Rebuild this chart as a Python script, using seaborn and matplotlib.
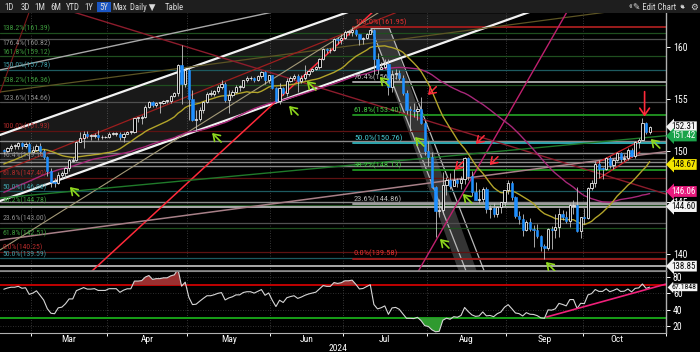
import numpy as np
import pandas as pd
import matplotlib
matplotlib.use("Agg")
import matplotlib.pyplot as plt
import matplotlib.transforms as mtransforms
import seaborn as sns
from matplotlib import font_manager
from matplotlib.patches import Rectangle, Polygon, FancyArrowPatch

# ------------------------------------------------------------------ data
start_date = "2024-02-20"

# closes before the first visible candle (used only for MA / RSI warm-up)
warmup_closes = [144.95, 146.2, 145.4, 142.9, 141.9, 142.2, 142.8, 143.8, 143.6, 142.1, 142.4,
                 142.4, 142.4, 141.9, 141.4, 141.0, 141.0, 142.0, 143.3, 144.6, 144.6, 144.2,
                 144.4, 145.7, 145.3, 144.9, 145.8, 147.2, 148.1, 148.2, 148.1, 148.1, 148.4,
                 147.5, 147.6, 148.1, 147.5, 147.6, 146.9, 146.4, 148.4, 148.7, 147.9, 148.2,
                 149.3, 149.3, 149.3, 150.8, 150.6, 149.9, 150.2, 150.1]

# daily (open, high, low, close)
feb_ohlc = [(150.1, 150.2, 149.7, 150.0), (150.0, 150.4, 149.8, 150.3), (150.3, 150.6, 150.0, 150.5),
            (150.5, 150.6, 150.2, 150.5), (150.5, 150.8, 150.2, 150.7), (150.7, 150.8, 150.2, 150.5),
            (150.5, 150.8, 150.3, 150.6), (150.6, 150.8, 149.2, 149.9)]
mar_ohlc = [(149.9, 150.5, 149.8, 150.1), (150.1, 150.6, 150.0, 150.5), (150.5, 150.7, 149.8, 150.0),
            (150.0, 150.2, 149.2, 149.4), (149.4, 149.5, 147.6, 148.0), (148.0, 148.3, 146.5, 147.0),
            (147.0, 147.4, 146.5, 146.9), (146.9, 147.9, 146.8, 147.7), (147.7, 148.0, 147.3, 147.8),
            (147.8, 148.4, 147.4, 148.3), (148.3, 149.2, 148.0, 149.1), (149.0, 149.4, 148.9, 149.1),
            (149.1, 150.9, 149.0, 150.8), (150.8, 151.8, 150.8, 151.2), (151.2, 151.9, 150.3, 151.6),
            (151.6, 151.9, 151.2, 151.4), (151.4, 151.6, 151.0, 151.4), (151.4, 151.7, 151.2, 151.5),
            (151.5, 151.97, 151.0, 151.3), (151.3, 151.5, 151.1, 151.3), (151.3, 151.4, 151.2, 151.3)]
apr_ohlc = [(151.3, 151.8, 151.2, 151.6), (151.6, 151.8, 151.5, 151.6), (151.6, 151.8, 151.4, 151.6),
            (151.6, 151.8, 151.0, 151.3), (151.3, 151.8, 150.8, 151.6), (151.6, 151.9, 151.6, 151.8),
            (151.8, 151.9, 151.6, 151.8), (151.8, 153.2, 151.7, 153.2), (153.2, 153.3, 152.8, 153.2),
            (153.2, 153.4, 152.6, 153.3), (153.3, 154.4, 153.2, 154.2), (154.2, 154.8, 154.1, 154.7),
            (154.7, 154.8, 154.2, 154.4), (154.4, 154.7, 154.2, 154.6), (154.6, 154.7, 153.6, 154.6),
            (154.6, 154.9, 154.5, 154.8), (154.8, 154.9, 154.6, 154.8), (154.8, 155.4, 154.6, 155.3),
            (155.3, 155.7, 155.2, 155.6), (155.6, 158.4, 155.3, 158.3), (158.3, 160.2, 154.5, 156.4),
            (156.4, 157.9, 156.2, 157.8)]
may_ohlc = [(157.8, 158.0, 153.0, 155.0), (155.0, 155.9, 152.9, 153.0), (153.0, 153.9, 151.86, 153.1),
            (153.1, 154.2, 152.9, 153.9), (153.9, 154.8, 153.6, 154.7), (154.7, 155.7, 154.6, 155.5),
            (155.5, 155.9, 155.3, 155.5), (155.5, 155.9, 155.3, 155.8), (155.8, 156.3, 155.6, 156.2),
            (156.2, 156.8, 156.0, 156.4), (156.4, 156.6, 154.7, 154.9), (154.9, 155.9, 153.6, 155.4),
            (155.4, 155.9, 155.2, 155.7), (155.7, 156.3, 155.6, 156.2), (156.2, 156.3, 155.8, 156.2),
            (156.2, 156.8, 156.1, 156.8), (156.8, 157.2, 156.6, 157.0), (157.0, 157.2, 156.8, 157.0),
            (157.0, 157.1, 156.6, 156.8), (156.8, 157.3, 156.7, 157.2), (157.2, 157.7, 157.0, 157.6),
            (157.6, 157.7, 156.4, 156.8), (156.8, 157.3, 156.5, 157.3)]
jun_ohlc = [(157.3, 157.3, 156.0, 156.1), (156.1, 156.2, 154.6, 154.8), (154.8, 156.5, 154.5, 156.1),
            (156.1, 156.2, 155.4, 155.6), (155.6, 157.0, 155.3, 156.7), (156.7, 157.2, 156.6, 157.0),
            (157.0, 157.4, 156.8, 157.2), (157.2, 157.4, 155.7, 156.7), (156.7, 157.3, 156.5, 157.0),
            (157.0, 158.3, 156.8, 157.4), (157.4, 157.8, 157.2, 157.7), (157.7, 158.0, 157.6, 157.9),
            (157.9, 158.2, 157.8, 158.1), (158.1, 159.0, 157.9, 158.9), (158.9, 159.9, 158.8, 159.8),
            (159.8, 159.9, 159.4, 159.7), (159.7, 159.9, 159.4, 159.7), (159.7, 160.9, 159.6, 160.8),
            (160.8, 161.0, 160.3, 160.7), (160.7, 161.3, 160.3, 160.9)]
jul_ohlc = [(160.9, 161.7, 160.8, 161.5), (161.5, 161.7, 161.2, 161.5), (161.5, 161.95, 161.1, 161.7),
            (161.7, 161.8, 161.1, 161.3), (161.3, 161.3, 160.2, 160.8), (160.8, 161.0, 160.3, 160.9),
            (160.9, 161.4, 160.8, 161.3), (161.3, 161.8, 161.3, 161.7), (161.7, 161.8, 157.4, 158.9),
            (158.9, 159.4, 157.4, 157.9), (157.9, 158.6, 157.9, 158.1), (158.1, 158.9, 157.9, 158.4),
            (158.4, 158.9, 155.4, 156.2), (156.2, 157.8, 155.7, 157.4), (157.4, 157.9, 156.9, 157.5),
            (157.5, 157.8, 156.8, 157.0), (157.0, 157.3, 155.4, 155.6), (155.6, 155.9, 153.5, 153.9),
            (154.0, 154.3, 151.9, 153.9), (153.9, 154.6, 153.3, 153.8), (153.8, 154.3, 153.0, 154.0),
            (154.0, 155.2, 152.6, 152.7), (152.7, 153.0, 149.6, 150.0)]
aug_ohlc = [(150.0, 150.9, 148.5, 149.4), (149.4, 149.9, 146.4, 146.5), (146.5, 146.6, 141.7, 144.2),
            (144.2, 145.3, 143.6, 144.3), (144.3, 147.9, 143.9, 146.7), (146.7, 147.5, 145.7, 147.2),
            (147.2, 147.8, 146.3, 146.6), (146.6, 148.2, 146.6, 147.2), (147.2, 147.4, 146.5, 146.9),
            (146.9, 147.6, 146.3, 147.3), (147.3, 149.4, 146.8, 149.3), (149.3, 149.4, 147.2, 147.6),
            (147.6, 148.0, 145.6, 146.0), (146.0, 147.0, 145.2, 145.2), (145.2, 146.3, 144.9, 145.3),
            (145.3, 146.5, 145.0, 146.3), (146.3, 146.5, 144.0, 144.4), (144.4, 144.8, 143.5, 144.5),
            (144.5, 144.9, 143.6, 143.9), (143.9, 144.7, 143.6, 144.6), (144.6, 145.0, 144.0, 145.0),
            (145.0, 146.2, 144.7, 146.2)]
sep_ohlc = [(146.2, 147.2, 145.8, 146.9), (146.9, 147.1, 145.2, 145.5), (145.5, 145.6, 143.5, 143.7),
            (143.7, 144.2, 142.9, 143.4), (143.4, 143.9, 141.8, 142.3), (142.3, 143.3, 142.2, 143.1),
            (143.1, 143.5, 142.2, 142.4), (142.4, 142.8, 140.7, 142.3), (142.3, 142.9, 141.6, 141.8),
            (141.8, 141.9, 140.3, 140.8), (140.8, 141.0, 139.58, 140.6), (140.6, 142.5, 140.4, 142.4),
            (142.4, 142.7, 140.5, 142.3), (142.3, 143.9, 141.6, 142.6), (142.6, 144.5, 141.7, 143.9),
            (143.9, 144.3, 143.3, 143.6), (143.6, 144.2, 143.0, 143.2), (143.2, 144.9, 142.6, 144.8),
            (144.7, 145.2, 143.9, 144.8), (144.8, 146.5, 142.1, 142.2), (142.2, 143.6, 141.6, 143.6)]
oct_ohlc = [(143.6, 144.5, 142.9, 143.5), (143.5, 146.5, 143.4, 146.4), (146.4, 147.2, 146.2, 146.9),
            (146.9, 149.0, 146.5, 148.7), (148.7, 149.1, 147.4, 148.2), (148.3, 148.4, 147.3, 148.2),
            (148.2, 149.4, 148.1, 149.3), (149.3, 149.5, 148.3, 148.6), (148.6, 149.3, 148.2, 149.1),
            (149.1, 149.9, 149.0, 149.8), (149.8, 149.9, 148.9, 149.2), (149.2, 149.7, 149.0, 149.3),
            (149.3, 150.3, 149.1, 150.1), (150.1, 150.3, 149.4, 149.5), (149.5, 150.9, 149.3, 150.8),
            (150.8, 151.2, 150.3, 151.0), (151.0, 153.2, 151.0, 152.7), (152.7, 152.8, 151.6, 151.8),
            (151.8, 152.4, 151.6, 152.3)]

# Fibonacci levels (left-anchored set, drawn across the chart)
fib_a_levels = [161.39, 160.82, 159.12, 157.78, 156.36, 154.66, 151.93, 149.16, 147.40, 146.08,
                144.78, 143.00, 142.51, 140.25, 139.59]
fib_a_names = ["138.2%", "176.4%", "161.8%", "150.0%", "138.2%", "123.6%", "100.0%", "76.4%",
               "61.8%", "50.0%", "38.2%", "23.6%", "61.8%", "0.0%", "50.0%"]
fib_a_kind = ["g", "k", "g", "t", "g", "k", "r", "k", "r", "t", "g", "k", "g", "r", "t"]
# label placement relative to its line: "a" above, "b" below
fib_a_side = ["a", "b", "a", "a", "a", "a", "a", "a", "a", "a", "a", "a", "b", "a", "a"]
# Fibonacci retracement of the Jul high -> Sep low
fib_b_levels = [161.95, 156.67, 153.40, 150.76, 148.13, 144.86, 139.58]
fib_b_names = ["100.0%", "76.4%", "61.8%", "50.0%", "38.2%", "23.6%", "0.0%"]
fib_b_kind = ["r", "k", "g", "t", "g", "k", "r"]
fib_b_start = 96.2          # trading-day position where the set starts

# plain horizontal levels
grey_levels = [150.90, 149.75, 148.94, 148.55, 145.07]
white_levels = [144.60, 138.85]

# trend lines: two anchor points (trading-day position, price)
trend_lines = {
    "channel_upper": [(-1.05, 151.52), (92.6, 163.11)],
    "channel_lower": [(-1.05, 145.14), (144.1, 163.30)],
    "grey_upper": [(-1.05, 157.80), (74.2, 163.40)],
    "olive": [(-1.05, 155.67), (164.2, 163.30)],
    "red_falling": [(19.1, 163.40), (181.6, 145.91)],
    "red_rising": [(24.6, 138.47), (101.4, 163.30)],
    "red_thin": [(-1.05, 147.94), (107.8, 163.30)],
    "red_steep": [(-1.05, 155.60), (7.0, 163.40)],
    "magenta_rising": [(114.1, 138.28), (155.2, 163.40)],
    "mauve": [(-1.05, 141.37), (181.6, 149.87)],
    "tan": [(-1.05, 140.41), (103.1, 163.30)],
    "green": [(-1.05, 145.43), (181.6, 151.42)],
}
trend_style = {
    "channel_upper": ("#f2f2f2", 1.6), "channel_lower": ("#f2f2f2", 1.6),
    "grey_upper": ("#a8a8a8", 1.0), "olive": ("#5c5424", 0.9),
    "red_falling": ("#8c1c2c", 1.0), "red_rising": ("#ff2a3a", 1.1),
    "red_thin": ("#9c1e1e", 0.9), "red_steep": ("#7a1a1a", 0.8),
    "magenta_rising": ("#c0206e", 1.0), "mauve": ("#a88088", 1.1),
    "tan": ("#a49a78", 0.8), "green": ("#1f7a2a", 1.0),
}
wedge_segments = [[(163.4, 148.81), (175.3, 150.94)], [(164.2, 147.36), (175.3, 149.87)]]

# falling shaded band (left edge through two points, width in trading days)
band_left = [(101.2, 161.86), (127.3, 138.47)]
band_width = 5.0

# arrows (tip position, tip price)
green_arrow_pos = [18.2, 57.4, 78.6, 83.5, 103.6, 113.3, 120.2, 126.5, 149.4, 178.3]
green_arrow_price = [146.49, 151.71, 154.32, 156.73, 157.12, 151.32, 141.47, 145.82, 139.25, 151.13]
red_arrow_pos = [116.9, 130.1, 124.3, 133.9]
red_arrow_price = [155.38, 150.65, 148.14, 148.62]
big_arrow_pos, big_arrow_tip, big_arrow_tail = 176.6, 153.30, 155.70

# right-hand value tags
tag_values = [152.31, 151.42, 148.67, 146.06, 144.60, 138.85]
tag_face = ["#f4f4f4", "#1aa34a", "#f2e400", "#e8197d", "#f4f4f4", "#f4f4f4"]
tag_text = ["black", "white", "black", "white", "black", "black"]
rsi_tag_value = 67.1848
rsi_trend = [(149.6, 31.0), (181.6, 70.2)]

price_ticks = [140, 145, 150, 155, 160]
rsi_ticks = [20, 40, 60, 80]
month_names = ["Mar", "Apr", "May", "Jun", "Jul", "Aug", "Sep", "Oct"]

# ------------------------------------------------------------------ style
sns.set_style("dark", {"axes.facecolor": "black", "figure.facecolor": "black",
                       "axes.edgecolor": "#9a9a9a", "xtick.color": "white",
                       "ytick.color": "white", "axes.grid": False})
_avail = {f.name for f in font_manager.fontManager.ttflist}
NARROW = "DejaVu Sans"
for cand in ["Liberation Sans Narrow", "DejaVu Sans Condensed", "Roboto Condensed",
             "Open Sans Condensed", "Roboto"]:
    if cand in _avail:
        NARROW = cand
        break
plt.rcParams["font.family"] = ["DejaVu Sans"]
FAM = [NARROW, "DejaVu Sans"]

ohlc = feb_ohlc + mar_ohlc + apr_ohlc + may_ohlc + jun_ohlc + jul_ohlc + aug_ohlc + sep_ohlc + oct_ohlc
o, h, l, c = (np.array(v, dtype=float) for v in zip(*ohlc))
n = len(c)
dates = pd.bdate_range(start_date, periods=n)
pos = np.arange(n, dtype=float)

all_close = pd.Series(list(warmup_closes) + list(c))
ma20 = all_close.rolling(20).mean().to_numpy()[-n:]
ma50 = all_close.rolling(50).mean().to_numpy()[-n:]
delta = all_close.diff()
gain = delta.clip(lower=0).ewm(alpha=1 / 14, adjust=False).mean()
loss = (-delta.clip(upper=0)).ewm(alpha=1 / 14, adjust=False).mean()
rsi = (100 - 100 / (1 + gain / loss)).to_numpy()[-n:]

XMIN, XMAX = -1.047, 182.4
YMIN, YMAX = 138.38, 163.30
RMIN, RMAX = 11.4, 87.3

W, H = 700, 352
fig = plt.figure(figsize=(W / 100, H / 100), dpi=100, facecolor="black")
ax = fig.add_axes([0, 1 - 271 / H, 666 / W, (271 - 13) / H])
axr = fig.add_axes([0, 1 - 333 / H, 666 / W, (333 - 271) / H], sharex=ax)
for a in (ax, axr):
    a.set_facecolor("black")
ax.set_xlim(XMIN, XMAX)
ax.set_ylim(YMIN, YMAX)
axr.set_ylim(RMIN, RMAX)


def line_y(anchors, xs):
    (x0, y0), (x1, y1) = anchors
    return y0 + (y1 - y0) * (np.asarray(xs) - x0) / (x1 - x0)


xs = np.linspace(XMIN, XMAX, 600)

# month boundaries
month_first = [i for i in range(n) if i == 0 or dates[i].month != dates[i - 1].month]
bounds = [i - 0.5 for i in month_first[1:]] + [n - 0.5 + (pd.bdate_range(dates[-1], "2024-11-01").size - 2)]
for b in bounds:
    ax.axvline(b, color="#4a4a4a", lw=0.6, ls=(0, (1, 2)), zorder=0.5)
    axr.axvline(b, color="#4a4a4a", lw=0.6, ls=(0, (1, 2)), zorder=0.5)

# channel shading
up_line = line_y(trend_lines["channel_upper"], xs)
lo_line = line_y(trend_lines["channel_lower"], xs)
ax.fill_between(xs, lo_line, np.minimum(up_line, YMAX), where=lo_line < YMAX,
                color="white", alpha=0.10, lw=0, zorder=0.6)

# falling band
(bx0, by0), (bx1, by1) = band_left
band = Polygon([(bx0, by0), (bx0 + band_width, by0), (bx1 + band_width, by1 - 2),
                (bx1, by1 - 2)], closed=True, fc="#3a3a3a", ec="none", alpha=0.9, zorder=0.7)
ax.add_patch(band)
ax.plot([bx0, bx1], [by0, by1], color="#b8b8b8", lw=0.9, zorder=0.8)
ax.plot([bx0 + band_width, bx1 + band_width], [by0, by1], color="#b8b8b8", lw=0.9, zorder=0.8)
ax.plot([bx0, bx0 + band_width], [by0, by0], color="#b8b8b8", lw=0.9, zorder=0.8)

# colours for fib kinds
line_col_a = {"g": "#1f4f1f", "k": "#505050", "t": "#1d5a60", "r": "#5e1212"}
text_col_a = {"g": "#3d9a3d", "k": "#8c8c8c", "t": "#3f9aa3", "r": "#b02a2a"}
line_col_b = {"g": "#1f8c1f", "k": "#a0a0a0", "t": "#2fa6ae", "r": "#9b1c1c"}
text_col_b = {"g": "#45c845", "k": "#b8b8b8", "t": "#45cad2", "r": "#e43030"}

for lev, nm, k, sd in zip(fib_a_levels, fib_a_names, fib_a_kind, fib_a_side):
    ax.axhline(lev, color=line_col_a[k], lw=0.9, zorder=0.9)
    ax.annotate(f"{nm}({lev:.2f})", xy=(-0.3, lev), xytext=(0, 0.5 if sd == "a" else -0.5),
                textcoords="offset points", color=text_col_a[k], fontsize=5.6,
                family=FAM, va="bottom" if sd == "a" else "top", ha="left", zorder=6)
for lev in grey_levels:
    ax.axhline(lev, color="#8a8a8a", lw=1.0, zorder=0.9)
for lev in white_levels:
    ax.axhline(lev, color="#d8d8d8", lw=1.1, zorder=0.9)
for lev, nm, k in zip(fib_b_levels, fib_b_names, fib_b_kind):
    ax.plot([fib_b_start, XMAX], [lev, lev], color=line_col_b[k], lw=1.4, zorder=1.0)
    ax.annotate(f"{nm}({lev:.2f})", xy=(fib_b_start + 0.3, lev), xytext=(0, 0.8),
                textcoords="offset points", color=text_col_b[k], fontsize=6.0,
                family=FAM, va="bottom", ha="left", zorder=6)

# trend lines
for key, anchors in trend_lines.items():
    col, lw = trend_style[key]
    ax.plot(xs, line_y(anchors, xs), color=col, lw=lw, zorder=1.2)
for seg in wedge_segments:
    ax.plot([seg[0][0], seg[1][0]], [seg[0][1], seg[1][1]], color="#d0202a", lw=0.9, zorder=1.2)

# moving averages (seaborn)
sns.lineplot(x=pos, y=ma50, ax=ax, color="#a8287a", lw=1.0, zorder=2, legend=False)
sns.lineplot(x=pos, y=ma20, ax=ax, color="#b2a42a", lw=1.0, zorder=2, legend=False)

# candles
rise = c >= o
ax.vlines(pos, l, h, color="#c4c4c4", lw=0.6, zorder=3)
ax.bar(pos[rise], np.maximum(c - o, 0.07)[rise], bottom=o[rise], width=0.62,
       facecolor="black", edgecolor="#f0f0f0", linewidth=0.6, zorder=4)
ax.bar(pos[~rise], np.maximum(o - c, 0.07)[~rise], bottom=c[~rise], width=0.62,
       facecolor="#1e8fff", edgecolor="#1e8fff", linewidth=0.4, zorder=4)

# arrows
for px_, pr_ in zip(green_arrow_pos, green_arrow_price):
    ax.annotate("", xy=(px_, pr_), xytext=(6.5, -6.5), textcoords="offset points",
                arrowprops=dict(arrowstyle="->,head_length=0.45,head_width=0.3", color="#8fd81e",
                                lw=1.2, shrinkA=0, shrinkB=0), zorder=7)
for px_, pr_ in zip(red_arrow_pos, red_arrow_price):
    ax.annotate("", xy=(px_, pr_), xytext=(6, 6), textcoords="offset points",
                arrowprops=dict(arrowstyle="->,head_length=0.45,head_width=0.3", color="#ff2a3a",
                                lw=1.1, shrinkA=0, shrinkB=0), zorder=7)
ax.annotate("", xy=(big_arrow_pos, big_arrow_tip), xytext=(big_arrow_pos, big_arrow_tail),
            arrowprops=dict(arrowstyle="->,head_length=0.5,head_width=0.35", color="#ff2a3a",
                            lw=1.2, shrinkA=0, shrinkB=0), zorder=7)

# ------------------------------------------------------------------ RSI panel
for v in rsi_ticks:
    axr.axhline(v, color="#3e3e3e", lw=0.6, ls=(0, (1, 2)), zorder=0.5)
axr.axhline(70, color="#c00000", lw=1.4, zorder=1)
axr.axhline(30, color="#17a017", lw=1.4, zorder=1)
axr.fill_between(pos, rsi, 70, where=rsi > 70, interpolate=True, color="#9a3030", lw=0, zorder=1.5)
axr.fill_between(pos, rsi, 30, where=rsi < 30, interpolate=True, color="#2f9a2f", lw=0, zorder=1.5)
sns.lineplot(x=pos, y=rsi, ax=axr, color="#d6d6d6", lw=0.8, zorder=2, legend=False)
rx = np.linspace(rsi_trend[0][0], XMAX, 50)
axr.plot(rx, line_y(rsi_trend, rx), color="#f0207a", lw=1.2, zorder=2.5)

# ------------------------------------------------------------------ axes cosmetics
for a in (ax, axr):
    a.set_xlabel("")
    a.set_ylabel("")
    a.yaxis.tick_right()
    a.spines["left"].set_visible(False)
    a.spines["right"].set_color("#b0b0b0")
    a.spines["right"].set_linewidth(1.0)
ax.spines["top"].set_visible(False)
ax.spines["bottom"].set_color("#8a8a8a")
ax.spines["bottom"].set_linewidth(1.2)
axr.spines["top"].set_color("#8a8a8a")
axr.spines["bottom"].set_color("#b0b0b0")

ax.set_yticks(price_ticks)
ax.set_yticklabels([str(t) for t in price_ticks], family=FAM)
axr.set_yticks(rsi_ticks)
axr.set_yticklabels([str(t) for t in rsi_ticks], family=FAM)
for a in (ax, axr):
    a.tick_params(axis="y", colors="white", labelsize=7.0, length=3, width=0.7, pad=2,
                  direction="out", right=True, left=False, labelright=True, labelleft=False)
axr.set_xticks(bounds)
axr.tick_params(axis="x", colors="white", length=2.5, width=0.7, labelbottom=False, bottom=True)
ax.tick_params(axis="x", bottom=False, labelbottom=False)

# month labels
xt = mtransforms.blended_transform_factory(axr.transData, axr.transAxes)
month_ids = sorted(set(d.month for d in dates))
for m in month_ids:
    idx = [i for i in range(n) if dates[i].month == m]
    name = dates[idx[0]].strftime("%b")
    if name in month_names:
        axr.text((idx[0] + idx[-1]) / 2.0, -0.03, name, transform=xt, ha="center", va="top",
                 fontsize=6.8, color="white", family=FAM, clip_on=False)
jul_first = [i for i in range(n) if dates[i].month == 7][0]
axr.text(jul_first - 2.0, -0.17, "2024", transform=xt, ha="center", va="top", fontsize=6.8,
         color="white", family=FAM, clip_on=False)

# value tags on the right
ytr = ax.get_yaxis_transform()
for v, fc, tc in zip(tag_values, tag_face, tag_text):
    ax.annotate(f"{v:.2f}", xy=(1.0, v), xycoords=ytr, xytext=(4, 0), textcoords="offset points",
                ha="left", va="center", fontsize=6.4, color=tc, family=FAM,
                annotation_clip=False, zorder=10,
                bbox=dict(boxstyle="larrow,pad=0.1", fc=fc, ec="none"))
axr.annotate(f"{rsi_tag_value:.4f}", xy=(1.0, rsi_tag_value), xycoords=axr.get_yaxis_transform(),
             xytext=(4, 0), textcoords="offset points", ha="left", va="center", fontsize=5.6,
             color="black", family=FAM, annotation_clip=False, zorder=10,
             bbox=dict(boxstyle="larrow,pad=0.1", fc="#f4f4f4", ec="none"))

# ------------------------------------------------------------------ toolbar
fig.add_artist(Rectangle((0, 1 - 13 / H), 1, 13 / H, transform=fig.transFigure,
                         fc="#1e1e1e", ec="none", zorder=20))
fig.add_artist(Rectangle((97 / W, 1 - 12 / H), 14 / W, 10 / H, transform=fig.transFigure,
                         fc="#1a56c4", ec="none", zorder=21))
toolbar_left = [("1D", 9), ("3D", 25), ("1M", 40), ("6M", 56), ("YTD", 73), ("1Y", 89),
                ("5Y", 104), ("Max", 120), ("Daily \u25BC", 143), ("Table", 174)]
toolbar_right = [("\u00AB", 630), ("\u270E Edit Chart", 655), ("\u2699", 694)]
for txt, x in toolbar_left + toolbar_right:
    fig.text(x / W, 1 - 7 / H, txt, ha="center", va="center", fontsize=6.3,
             color="#d8d8d8", family=FAM, zorder=22)
# "expand" icon (no installed font has the glyph): small double-headed diagonal arrow
fig.add_artist(FancyArrowPatch(
    (679 / W, 1 - 10 / H), (686 / W, 1 - 3.5 / H), transform=fig.transFigure,
    arrowstyle="<->,head_length=1.5,head_width=1.2", color="#d8d8d8", lw=0.7, zorder=22))

fig.savefig("out.png", dpi=100, facecolor="black")
